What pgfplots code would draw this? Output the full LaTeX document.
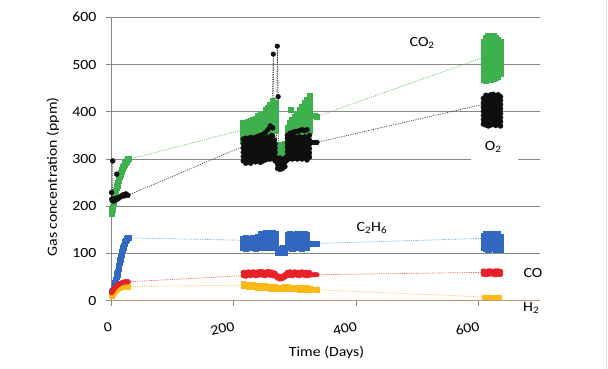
\documentclass[border=0pt]{standalone}
\usepackage{fontspec}
\setmainfont{Carlito}[FakeStretch=1.13]
\usepackage{pgfplots}
\usepackage{pgfplotstable}
\pgfplotsset{compat=1.18}

\definecolor{cgreen}{RGB}{62,176,78}
\definecolor{cblack}{RGB}{15,15,15}
\definecolor{cblue}{RGB}{50,104,192}
\definecolor{cred}{RGB}{232,32,42}
\definecolor{cyellow}{RGB}{252,184,22}
\definecolor{lgreen}{RGB}{100,196,100}
\definecolor{lblack}{RGB}{60,60,60}
\definecolor{lblue}{RGB}{100,165,230}
\definecolor{lred}{RGB}{235,90,80}
\definecolor{lyellow}{RGB}{250,196,80}
\definecolor{gridgray}{RGB}{135,135,135}
\definecolor{xaxiscol}{RGB}{190,150,120}

\newcommand{\lblfont}{\fontsize{14}{16}\selectfont}

\tikzset{
  dl/.style={line width=0.7pt, dash pattern=on 1.1pt off 1.2pt},
  gmk/.style={only marks, mark=square*, mark size=2.6pt, color=cgreen},
  kmk/.style={only marks, mark=*, mark size=2.5pt, color=cblack},
  bmk/.style={only marks, mark=square*, mark size=2.6pt, color=cblue},
  rmk/.style={only marks, mark=*, mark size=2.4pt, color=cred},
  ymk/.style={only marks, mark=square*, mark size=2.3pt, color=cyellow},
}

% ---------- start-up period (days 0-30) ----------
\pgfplotstableread{
d v
1 184
2 192
3 199
4 206
5 213
6 220
7 227
8 233
9 239
10 244
11 249
12 254
13 258
14 262
15 266
16 270
17 274
18 277
19 280
20 283
21 286
22 289
23 291
24 293
25 295
26 297
27 299
28 300
}\greenearly

\pgfplotstableread{
d v
1 229
1.5 215
2 212
2.5 216
2.8 296
3.2 213
4 211
5 214
6 212
7 215
8 216
9 214
9.4 268
9.8 217
11 218
12.5 217
14 219
15.5 220
17 221
18.5 223
20 224
21.5 222
23 225
24.5 226
26 224
27.5 223
}\blackearly

\pgfplotstableread{
d v
1 19
2.5 21
4 24
5 27
6 32
7 38
8 44
9 50
10 56
11 62
12 68
13 74
14 80
15 86
16 92
17 98
18 103
19 108
20 113
21 117
22 121
23 124
24 127
25 129.5
26 131
27 133
28 134
29 134
}\blueearly

\pgfplotstableread{
d v
1 17
2 19
3 21
4 23
5 25
6 27
7 28.5
8 30
10 32
12 34
14 35.5
16 37
18 38
20 39
22 39.5
24 40
26 40
28 40
}\redearly

\pgfplotstableread{
d v
1 11
2 13
3 15
4 17
5 19
6 21
7 22
8 23.5
10 25
12 26.5
14 27.5
16 28.5
18 29
20 29.5
22 30
24 30
26 30
28 30
}\yellowearly

% ---------- second campaign (days 215-340) ----------
\pgfplotstableread{
d y1 y2 y3 y4 y5 y6 y7 y8 y9
216 340 350 360 370 376 nan nan nan nan
220 340 350 360 368 375 nan nan nan nan
224 340 350 360 370 378 nan nan nan nan
228 342 352 362 372 381 nan nan nan nan
232 342 352 362 372 382 nan nan nan nan
236 342 352 362 374 385 nan nan nan nan
240 345 355 365 375 385 392 nan nan nan
244 345 355 365 375 385 394 nan nan nan
248 345 355 365 375 385 396 nan nan nan
252 350 360 370 380 390 400 404 nan nan
256 350 360 370 380 390 400 408 nan nan
260 355 365 375 385 395 405 414 nan nan
264 360 370 380 390 400 410 420 423 nan
268 360 370 380 390 400 410 418 nan nan
272 310 320 330 nan nan nan nan nan nan
276 310 320 330 nan nan nan nan nan nan
280 312 322 330 nan nan nan nan nan nan
284 312 322 332 nan nan nan nan nan nan
288 340 350 360 367 nan nan nan nan nan
292 340 350 360 370 376 nan nan nan nan
296 342 352 362 372 382 nan nan nan nan
300 345 355 365 375 385 389 nan nan nan
304 345 355 365 375 385 395 nan nan nan
308 350 360 370 380 390 400 404 nan nan
312 350 360 370 380 390 400 410 nan nan
316 355 365 375 385 395 405 415 418 nan
320 355 365 375 385 395 405 415 425 nan
324 360 370 380 390 400 410 420 430 433
328 391 nan nan nan nan nan nan nan nan
332 391 nan nan nan nan nan nan nan nan
336 390 nan nan nan nan nan nan nan nan
293 404 nan nan nan nan nan nan nan nan
}\greenmid

\pgfplotstableread{
d y1 y2 y3 y4 y5 y6 y7
216 296 305 314 323 332 342 nan
220 291 300 309 318 327 336 344
224 296 305 314 323 332 341 nan
228 291 300 309 318 327 336 346
232 296 305 314 323 332 342 nan
236 294 303 312 321 330 339 346
240 296 305 314 323 332 342 348
244 293 302 311 320 329 338 350
248 296 305 314 323 332 342 352
252 298 307 316 325 334 344 356
256 300 309 318 327 336 346 362
260 300 309 318 327 336 346 370
264 302 311 320 329 338 348 366
268 296 305 314 323 332 nan nan
272 280 289 298 nan nan nan nan
276 278 287 296 302 nan nan nan
280 280 289 298 nan nan nan nan
284 284 293 302 nan nan nan nan
288 298 307 316 325 334 343 350
292 302 311 320 329 338 347 354
296 300 309 318 327 336 345 356
300 302 311 320 329 338 347 358
304 300 309 318 327 336 345 358
308 302 311 320 329 338 347 360
312 300 309 318 327 336 345 362
316 302 311 320 329 338 347 360
320 298 307 316 325 334 343 362
324 304 313 322 331 340 350 nan
328 335 nan nan nan nan nan nan
332 335 nan nan nan nan nan nan
336 335 nan nan nan nan nan nan
}\blackmid

\pgfplotstableread{
d y1 y2 y3 y4
216 112 122 130 nan
220 110 120 130 134
224 112 122 132 nan
228 112 122 131 nan
232 113 123 133 nan
236 111 121 131 nan
240 112 122 132 136
244 114 124 134 142
248 112 122 132 141
252 113 123 133 143
256 112 122 132 142
260 114 124 134 144
264 112 122 132 143
268 113 123 133 141
272 102 110 nan nan
276 101 109 nan nan
280 103 111 nan nan
284 102 110 nan nan
288 112 122 132 140
292 113 123 133 141
296 111 121 131 139
300 112 122 132 140
304 113 123 133 141
308 112 122 132 142
312 111 121 131 140
316 113 123 133 141
320 112 122 132 139
324 121 nan nan nan
328 121 nan nan nan
332 121 nan nan nan
336 121 nan nan nan
}\bluemid

\pgfplotstableread{
d y1 y2
216 53 60
220 52 59
224 54 61
228 53 60
232 55 61
236 53 60
240 54 61
244 55 62
248 54 61
252 53 60
256 55 62
260 54 61
264 53 60
268 52 58
272 48 53
276 46 51
280 47 52
284 50 55
288 53 60
292 54 61
296 53 60
300 55 61
304 54 60
308 53 60
312 55 61
316 54 60
320 53 60
324 54 60
328 55 nan
332 55 nan
336 55 nan
}\redmid

\pgfplotstableread{
d y1 y2
216 31 36
220 31 35
224 30 35
228 30 34
232 29 34
236 29 33
240 28 33
244 28 33
248 28 32
252 27 32
256 27 31
260 26 31
264 26 31
268 26 30
272 25 29
276 25 29
280 25 29
284 26 30
288 26 30
292 25 29
296 25 29
300 24 29
304 24 28
308 23 28
312 23 27
316 22 27
320 22 27
324 22 26
328 24 nan
332 24 nan
336 23 nan
}\yellowmid

% ---------- last campaign (days 605-640) ----------
\pgfplotstableread{
d y1 y2 y3 y4 y5 y6 y7 y8 y9 y10
608 468 478 488 498 508 518 528 538 548 nan
612 466 476 486 496 506 516 526 536 546 556
616 470 480 490 500 510 520 530 540 550 560
620 468 478 488 498 508 518 528 538 548 558
624 470 480 490 500 510 520 530 540 550 560
628 472 482 492 502 512 522 532 542 552 557
632 474 484 494 504 514 524 534 544 552 nan
636 480 490 500 510 520 530 540 548 nan nan
}\greenlate

\pgfplotstableread{
d y1 y2 y3 y4 y5 y6 y7 y8
608 374 383 392 401 410 419 428 nan
612 372 381 390 399 408 417 426 435
616 370 379 388 397 406 415 424 433
620 372 381 390 399 408 417 426 436
624 374 383 392 401 410 419 428 437
628 371 380 389 398 407 416 425 434
632 373 382 391 400 409 418 427 436
636 370 379 388 397 406 415 424 432
}\blacklate

\pgfplotstableread{
d y1 y2 y3 y4 y5
608 112 121 130 138 nan
612 110 119 128 137 142
616 109 118 127 136 141
620 110 119 128 137 141
624 111 120 129 138 142
628 109 118 127 136 141
632 110 119 128 137 141
636 109 118 127 136 nan
}\bluelate

\pgfplotstableread{
d y1 y2
608 56 63
612 55 62
616 56 63
620 57 63
624 56 62
628 55 63
632 56 63
636 56 62
}\redlate

\pgfplotstableread{
d y1
610 7
614 7
618 7
622 7
626 7
630 7
634 7
}\yellowlate

\begin{document}
\begin{tikzpicture}
\begin{axis}[
  at={(0pt,0pt)}, anchor=south west,
  scale only axis, width=428.75pt, height=283.4pt,
  xmin=0, xmax=700, ymin=0, ymax=600,
  xtick={0,200,400,600}, ytick={0,100,...,600},
  axis x line*=bottom, axis y line*=left,
  ymajorgrids, major grid style={gridgray, line width=0.9pt},
  x axis line style={xaxiscol, line width=0.9pt},
  y axis line style={gridgray, line width=0.9pt},
  tick align=outside, major tick length=5pt,
  tick style={gridgray, line width=0.8pt},
  tick label style={font=\lblfont, /pgf/number format/assume math mode=true},
  xticklabel style={rotate=12, anchor=east, yshift=-20pt},
  yticklabel style={xshift=-6pt},
  label style={font=\lblfont},
  xlabel={Time (Days)},
  xlabel style={at={(axis description cs:0.5026,-0.1828)}, anchor=center},
  ylabel={Gas concentration (ppm)},
  ylabel style={at={(axis description cs:-0.1353,0.4365)}, anchor=center},
  clip=false,
]
% dotted links between the measurement campaigns
\addplot[lgreen, dl] coordinates {(28,299) (216,362)};
\addplot[lgreen, dl] coordinates {(336,390) (608,515)};
\addplot[lblack, dl] coordinates {(27.5,223) (216,327)};
\addplot[lblack, dl] coordinates {(336,335) (608,416)};
\addplot[lblue, dl] coordinates {(29,133) (216,128)};
\addplot[lblue, dl] coordinates {(336,121) (608,132)};
\addplot[lred, dl] coordinates {(28,40) (216,53)};
\addplot[lred, dl] coordinates {(336,55) (608,60)};
\addplot[lyellow, dl] coordinates {(28,30) (216,33)};
\addplot[lyellow, dl] coordinates {(336,23) (610,8)};

% CO2
\addplot[gmk] table[x=d, y=v] {\greenearly};
\pgfplotsinvokeforeach{y1,y2,y3,y4,y5,y6,y7,y8,y9}{
  \addplot[gmk] table[x=d, y=#1] {\greenmid};
}
\pgfplotsinvokeforeach{y1,y2,y3,y4,y5,y6,y7,y8,y9,y10}{
  \addplot[gmk] table[x=d, y=#1] {\greenlate};
}

% O2
\addplot[lblack, dl] table[x=d, y=v] {\blackearly};
\addplot[kmk] table[x=d, y=v] {\blackearly};
\pgfplotsinvokeforeach{y1,y2,y3,y4,y5,y6,y7}{
  \addplot[kmk] table[x=d, y=#1] {\blackmid};
}
\addplot[lblack, dl, mark=*, mark size=2.2pt, mark options={solid, fill=cblack, draw=cblack}]
  coordinates {(262,350) (265,522) (267,340)};
\addplot[lblack, dl, mark=*, mark size=2.2pt, mark options={solid, fill=cblack, draw=cblack}]
  coordinates {(270,300) (271.5,539) (273,432) (274,290)};
\pgfplotsinvokeforeach{y1,y2,y3,y4,y5,y6,y7,y8}{
  \addplot[kmk] table[x=d, y=#1] {\blacklate};
}

% C2H6
\addplot[bmk] table[x=d, y=v] {\blueearly};
\pgfplotsinvokeforeach{y1,y2,y3,y4}{
  \addplot[bmk] table[x=d, y=#1] {\bluemid};
}
\pgfplotsinvokeforeach{y1,y2,y3,y4,y5}{
  \addplot[bmk] table[x=d, y=#1] {\bluelate};
}

% H2
\addplot[ymk] table[x=d, y=v] {\yellowearly};
\pgfplotsinvokeforeach{y1,y2}{
  \addplot[ymk] table[x=d, y=#1] {\yellowmid};
}
\addplot[ymk] table[x=d, y=y1] {\yellowlate};

% CO
\addplot[rmk] table[x=d, y=v] {\redearly};
\pgfplotsinvokeforeach{y1,y2}{
  \addplot[rmk] table[x=d, y=#1] {\redmid};
  \addplot[rmk] table[x=d, y=#1] {\redlate};
}

% gas labels
\fill[white] (axis cs:588,294) rectangle (axis cs:665,346);
\node[font=\lblfont] at (axis cs:508,546) {CO\textsubscript{2}};
\node[font=\lblfont] at (axis cs:624,325) {O\textsubscript{2}};
\node[font=\lblfont] at (axis cs:426,154) {C\textsubscript{2}H\textsubscript{6}};
\node[font=\lblfont] at (axis cs:689,58.5) {CO};
\node[font=\lblfont] at (axis cs:686,-15.7) {H\textsubscript{2}};
\end{axis}
\draw[black!12, line width=0.8pt] (495.5pt,-68.3pt) -- (495.5pt,300.7pt);
\pgfresetboundingbox
\path (-111pt,-68.3pt) rectangle (497pt,300.7pt);
\end{tikzpicture}
\end{document}
